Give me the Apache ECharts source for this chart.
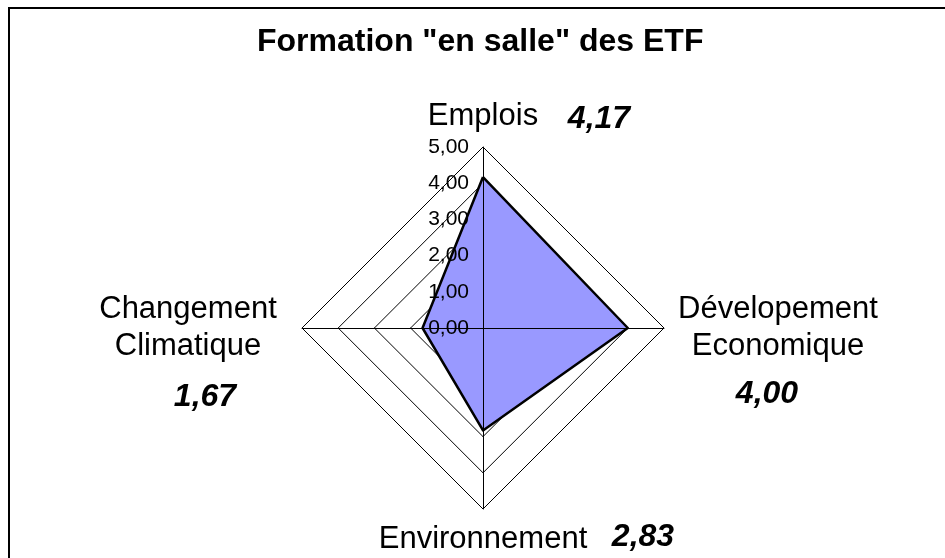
<!DOCTYPE html>
<html>
<head>
<meta charset="utf-8">
<title>Formation "en salle" des ETF</title>
<script src="https://cdn.jsdelivr.net/npm/echarts@6/dist/echarts.min.js"></script>
<style>
	html, body { margin: 0; padding: 0; background: #fff; }
	#main { width: 945px; height: 558px; }
</style>
</head>
<body>
<div id="main"></div>
<script>
// radar order is counter-clockwise from the top
var names = ['Emplois', 'Changement\nClimatique', 'Environnement', 'Dévelopement\nEconomique'];
var values = [4.17, 1.67, 2.83, 4.00];
var tickLabels = ['0,00', '1,00', '2,00', '3,00', '4,00', '5,00'];
var maxValue = 5;

var font = "'Liberation Sans', Arial, sans-serif";

function fmt(v) {
	return v.toFixed(2).replace('.', ',');
}

var myChart = echarts.init(document.getElementById('main'));

// value labels placed like the original sheet
var valuePos = [[599, 119], [205, 397], [643, 537], [767, 394]];
var valueTexts = values.map(function(v, i) {
	return {
		type: 'text',
		z: 10,
		x: valuePos[i][0],
		y: valuePos[i][1],
		style: {
			text: fmt(v),
			font: 'italic bold 32px ' + font,
			fill: '#000',
			align: 'center',
			verticalAlign: 'middle'
		}
	};
});

var option = {
	backgroundColor: '#fff',
	title: {
		text: 'Formation "en salle" des ETF',
		left: 252,
		top: 21,
		textStyle: {
			color: '#000',
			fontFamily: font,
			fontWeight: 'bold',
			fontSize: 32
		}
	},
	radar: [{
		// grid + names, below the filled area
		center: [483, 328],
		radius: 181,
		shape: 'polygon',
		splitNumber: 5,
		z: 0,
		indicator: names.map(function(n) {
			return { name: n, min: 0, max: maxValue };
		}),
		axisName: {
			color: '#000',
			fontFamily: font,
			fontSize: 31,
			lineHeight: 37,
			formatter: function(name) {
				return name.split('\n').map(function(s) {
					return '{a|' + s + '}';
				}).join('\n');
			},
			rich: {
				a: {
					width: 204,
					align: 'center',
					fontFamily: font,
					fontSize: 31,
					lineHeight: 37,
					color: '#000'
				}
			}
		},
		nameGap: 12,
		splitLine: {
			lineStyle: { color: '#000', width: 1 }
		},
		splitArea: { show: false },
		axisLine: { show: false }
	}, {
		// axis lines + tick labels, drawn over the filled area
		center: [483, 328],
		radius: 181,
		shape: 'polygon',
		splitNumber: 5,
		z: 5,
		indicator: names.map(function(n, i) {
			return { name: n, min: 0, max: maxValue, axisLabel: { show: i === 0 } };
		}),
		axisName: { show: false },
		splitLine: { show: false },
		splitArea: { show: false },
		axisLine: {
			lineStyle: { color: '#000', width: 1 }
		},
		axisLabel: {
			show: false,
			color: '#000',
			fontFamily: font,
			fontSize: 21,
			margin: 14,
			formatter: function(v, idx) {
				return tickLabels[idx];
			}
		}
	}],
	series: [{
		// filled area
		type: 'radar',
		radarIndex: 0,
		z: 2,
		symbol: 'none',
		silent: true,
		lineStyle: { color: '#000', width: 1 },
		areaStyle: { color: '#9999FF', opacity: 1 },
		data: [{ value: values, name: 'ETF' }]
	}, {
		// outline on top of the fill
		type: 'radar',
		radarIndex: 0,
		z: 3,
		symbol: 'none',
		silent: true,
		lineStyle: { color: '#000', width: 2.5 },
		data: [{ value: values, name: 'ETF' }]
	}],
	graphic: [{
		type: 'rect',
		z: 10,
		shape: { x: 9, y: 8, width: 1000, height: 1000 },
		style: { fill: 'none', stroke: '#000', lineWidth: 2 }
	}].concat(valueTexts)
};
myChart.setOption(option);
</script>
</body>
</html>
